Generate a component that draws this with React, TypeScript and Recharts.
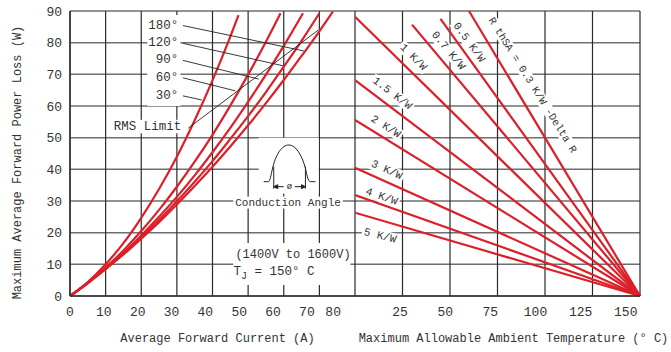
import React from "react";
import {
  LineChart,
  Line,
  XAxis,
  YAxis,
  CartesianGrid,
  ReferenceLine,
  ReferenceDot,
  ReferenceArea,
} from "recharts";

const FONT = '"Liberation Mono", "DejaVu Sans Mono", monospace';
const RED = "#dc1f28";
const INK = "#333";

// left panel: loss vs average current, one curve per conduction angle
const angleNames = ["180°", "120°", "90°", "60°", "30°"];
const curve180 = [[0, 0], [5, 4.1], [10, 8.5], [15, 13.1], [20, 18.1], [25, 23.3], [30, 28.9], [35, 34.7], [40, 40.8], [45, 47.2], [50, 53.9], [55, 60.9], [60, 68.2], [65, 75.8], [70, 83.6], [73.8, 89.8]];
const curve120 = [[0, 0], [5, 4.1], [10, 8.6], [15, 13.4], [20, 18.5], [25, 24.0], [30, 29.9], [35, 36.1], [40, 42.6], [45, 49.6], [50, 56.8], [55, 64.4], [60, 72.4], [65, 80.6], [70, 89.3]];
const curve90 = [[0, 0], [5, 4.1], [10, 8.6], [15, 13.6], [20, 19.1], [25, 25.0], [30, 31.3], [35, 38.1], [40, 45.4], [45, 53.1], [50, 61.3], [55, 69.9], [60, 79.0], [65.4, 89.3]];
const curve60 = [[0, 0], [5, 4.2], [10, 9.0], [15, 14.4], [20, 20.5], [25, 27.2], [30, 34.5], [35, 42.4], [40, 50.9], [45, 60.1], [50, 69.9], [55, 80.3], [59.1, 89.3]];
const curve30 = [[0, 0], [5, 4.4], [10, 10.0], [15, 16.7], [20, 24.7], [25, 33.8], [30, 44.0], [35, 55.5], [40, 68.1], [45, 81.9], [47.3, 88.7]];
const lossCurves = [curve180, curve120, curve90, curve60, curve30];

// where the angle captions sit and where their leaders touch the curves
const captionLoss = [85.4, 79.8, 74.4, 68.9, 63.2];
const leaderEnds = [[65.6, 77.4], [59.8, 72.7], [53.0, 68.5], [46.4, 64.8], [37.0, 61.9]];
const rmsLimit = [[33.2, 53.0], [69.7, 84.0]];

const currentTicks = [0, 10, 20, 30, 40, 50, 60, 70, 80];
const lossTicks = [0, 10, 20, 30, 40, 50, 60, 70, 80, 90];
const tempTicks = [0, 25, 50, 75, 100, 125, 150];

// right panel: heatsink resistance lines, all ending at Tj
const sinkNames = ["0.3", "0.5", "0.7", "1", "1.5", "2", "3", "4", "5"];
const sinkStartTemp = [60, 45, 30, 0, 0, 0, 0, 0, 0];
const sinkStartLoss = [90, 87.5, 85.7, 88.2, 68.2, 55.6, 40.5, 31.9, 26.3];
const junctionTemp = 150;

// label spots for the sink lines (temp, loss, angle)
const sinkLabelTemp = [93.4, 60, 49.1, 30.7, 19.6, 16.2, 16.7, 14, 13.2];
const sinkLabelLoss = [66.6, 80.1, 77.5, 75.4, 64.0, 53.5, 39.8, 31.4, 19.0];
const sinkLabelAngle = [58, 54, 50, 45, 37, 32, 24, 19.5, 14];

const PLOT_LEFT = 70;

function Tag({ viewBox, text, size = 12, angle = 0, anchor = "middle", box = true }: any) {
  const { x, y } = viewBox;
  const w = text.length * size * 0.6 + 4;
  const h = size + 1;
  const rx = anchor === "start" ? -2 : anchor === "end" ? -w + 2 : -w / 2;
  return (
    <g transform={`translate(${x},${y}) rotate(${angle})`}>
      {box && <rect x={rx} y={-h / 2} width={w} height={h} fill="#fff" />}
      <text
        textAnchor={anchor}
        dominantBaseline="central"
        fontFamily={FONT}
        fontSize={size}
        fill={INK}
      >
        {text}
      </text>
    </g>
  );
}

function PulseIcon({ viewBox }: any) {
  const { x, y } = viewBox;
  return (
    <g transform={`translate(${x},${y})`} fill="none" stroke="#222" strokeWidth={1}>
      <rect x={-30} y={-44} width={60} height={56} fill="#fff" stroke="none" />
      <path d="M -25 0 L -20.6 0 C -18.5 0 -17.5 -8 -16.6 -11.7 C -13 -28 -6.5 -36.7 0 -36.7 C 7 -36.7 13 -27 16.7 -13.4 C 18 -8 19 0 21.7 0 L 26.7 0" />
      <path d="M -15 -15 V 7 M 16.7 -15 V 7 M -15 5 H -5 M 6 5 H 16.7" />
      <path d="M -15 5 l 4 -2 v 4 z M 16.7 5 l -4 -2 v 4 z" fill="#222" />
      <text x={0.8} y={5} textAnchor="middle" dominantBaseline="central" fontFamily={FONT} fontSize={9} fill="#222" stroke="none">
        ø
      </text>
    </g>
  );
}

function TjNote({ viewBox }: any) {
  const { x, y } = viewBox;
  return (
    <text x={x} y={y} dominantBaseline="central" fontFamily={FONT} fontSize={12.5} fill={INK}>
      T
      <tspan fontSize={10} dy={4}>J</tspan>
      <tspan dy={-4}> = 150° C</tspan>
    </text>
  );
}

function XTick({ x, y, payload, origin, hideZero }: any) {
  if (hideZero && payload.value === 0) return <g />;
  const lx = origin + (x - origin) * 0.95;
  return (
    <text x={lx} y={y + 16} textAnchor="middle" dominantBaseline="central" fontFamily={FONT} fontSize={13} fill={INK}>
      {payload.value}
    </text>
  );
}

const hLines = { stroke: "#6f6f6f", strokeWidth: 1.5 };
const vLines = { stroke: "#2a2a2a", strokeWidth: 1.2 };

function CurrentPanel() {
  return (
    <LineChart width={355} height={352} margin={{ top: 11, right: 0, bottom: 0, left: 0 }}>
      <CartesianGrid vertical={false} {...hLines} />
      <CartesianGrid horizontal={false} {...vLines} />
      <XAxis
        type="number"
        dataKey="i"
        domain={[0, 80]}
        ticks={currentTicks}
        height={56}
        tickSize={0}
        tickMargin={0}
        tickLine={false}
        axisLine={{ stroke: INK, strokeWidth: 1.5 }}
        tick={(p: any) => <XTick {...p} origin={PLOT_LEFT} />}
        label={(p: any) => (
          <text
            x={p.viewBox.x + p.viewBox.width / 2 + 5}
            y={p.viewBox.y + 43}
            textAnchor="middle"
            dominantBaseline="central"
            fontFamily={FONT}
            fontSize={12}
            fill={INK}
          >
            Average Forward Current (A)
          </text>
        )}
      />
      <YAxis
        type="number"
        domain={[0, 90]}
        ticks={lossTicks}
        width={PLOT_LEFT}
        tickSize={0}
        tickMargin={8}
        tickLine={false}
        axisLine={{ stroke: INK, strokeWidth: 1.5 }}
        tick={{ fontFamily: FONT, fontSize: 13, fill: INK }}
        label={(p: any) => (
          <text
            transform={`translate(18,${p.viewBox.y + p.viewBox.height / 2 + 9}) rotate(-90)`}
            textAnchor="middle"
            dominantBaseline="central"
            fontFamily={FONT}
            fontSize={12}
            fill={INK}
          >
            Maximum Average Forward Power Loss (W)
          </text>
        )}
      />

      <ReferenceArea x1={21.7} x2={31} y1={60} y2={88.7} fill="#fff" fillOpacity={1} stroke="none" />
      <ReferenceArea x1={45.8} x2={78.7} y1={3.5} y2={16.7} fill="#fff" fillOpacity={1} stroke="none" />

      {lossCurves.map((c, k) => (
        <Line
          key={angleNames[k]}
          data={c.map(([i, p]) => ({ i, p }))}
          dataKey="p"
          type="monotone"
          stroke={RED}
          strokeWidth={2.2}
          dot={false}
          isAnimationActive={false}
        />
      ))}

      <ReferenceLine
        segment={[
          { x: rmsLimit[0][0], y: rmsLimit[0][1] },
          { x: rmsLimit[1][0], y: rmsLimit[1][1] },
        ]}
        stroke="#222"
        strokeWidth={0.9}
      />
      {angleNames.map((name, k) => (
        <ReferenceLine
          key={"lead" + name}
          segment={[
            { x: 31.7, y: captionLoss[k] },
            { x: leaderEnds[k][0], y: leaderEnds[k][1] },
          ]}
          stroke="#222"
          strokeWidth={0.9}
        />
      ))}
      {angleNames.map((name, k) => (
        <ReferenceDot
          key={"cap" + name}
          x={30.4}
          y={captionLoss[k]}
          r={0}
          stroke="none"
          label={(p: any) => <Tag viewBox={p.viewBox} text={name} size={12.5} anchor="end" box={false} />}
        />
      ))}
      <ReferenceDot
        x={31.2}
        y={53.5}
        r={0}
        stroke="none"
        label={(p: any) => <Tag viewBox={p.viewBox} text="RMS Limit" size={12.5} anchor="end" />}
      />
      <ReferenceDot x={61.4} y={36.1} r={0} stroke="none" label={(p: any) => <PulseIcon viewBox={p.viewBox} />} />
      <ReferenceDot
        x={61.2}
        y={29.5}
        r={0}
        stroke="none"
        label={(p: any) => <Tag viewBox={p.viewBox} text="Conduction Angle" size={11} />}
      />
      <ReferenceDot
        x={62.6}
        y={12.9}
        r={0}
        stroke="none"
        label={(p: any) => <Tag viewBox={p.viewBox} text="(1400V to 1600V)" size={12} box={false} />}
      />
      <ReferenceDot x={45.9} y={7.6} r={0} stroke="none" label={(p: any) => <TjNote viewBox={p.viewBox} />} />
    </LineChart>
  );
}

function TempPanel() {
  return (
    <LineChart width={316} height={352} margin={{ top: 11, right: 31, bottom: 0, left: 0 }}>
      <CartesianGrid vertical={false} {...hLines} />
      <CartesianGrid horizontal={false} {...vLines} />
      <XAxis
        type="number"
        dataKey="t"
        domain={[0, 150]}
        ticks={tempTicks}
        height={56}
        tickSize={0}
        tickMargin={0}
        tickLine={false}
        axisLine={{ stroke: INK, strokeWidth: 1.5 }}
        tick={(p: any) => <XTick {...p} origin={0} hideZero />}
        label={(p: any) => (
          <text
            x={p.viewBox.x + p.viewBox.width / 2 + 16}
            y={p.viewBox.y + 43}
            textAnchor="middle"
            dominantBaseline="central"
            fontFamily={FONT}
            fontSize={12}
            fill={INK}
          >
            Maximum Allowable Ambient Temperature (° C)
          </text>
        )}
      />
      <YAxis type="number" domain={[0, 90]} ticks={lossTicks} hide />

      {sinkNames.map((name, k) => (
        <Line
          key={name}
          data={[
            { t: sinkStartTemp[k], p: sinkStartLoss[k] },
            { t: junctionTemp, p: 0 },
          ]}
          dataKey="p"
          type="linear"
          stroke={RED}
          strokeWidth={2.2}
          dot={false}
          isAnimationActive={false}
        />
      ))}

      {sinkNames.map((name, k) => (
        <ReferenceDot
          key={"lbl" + name}
          x={sinkLabelTemp[k]}
          y={sinkLabelLoss[k]}
          r={0}
          stroke="none"
          label={(p: any) => (
            <Tag
              viewBox={p.viewBox}
              text={k === 0 ? `R thSA = ${name} K/W -Delta R` : `${name} K/W`}
              size={k === 0 ? 10.5 : 11}
              angle={sinkLabelAngle[k]}
            />
          )}
        />
      ))}
    </LineChart>
  );
}

export default function App() {
  return (
    <div
      style={{
        position: "absolute",
        left: 0,
        top: 0,
        width: 671,
        height: 352,
        background: "#fff",
        overflow: "hidden",
      }}
    >
      <div style={{ position: "absolute", left: 0, top: 0 }}>
        <CurrentPanel />
      </div>
      <div style={{ position: "absolute", left: 355, top: 0 }}>
        <TempPanel />
      </div>
    </div>
  );
}
